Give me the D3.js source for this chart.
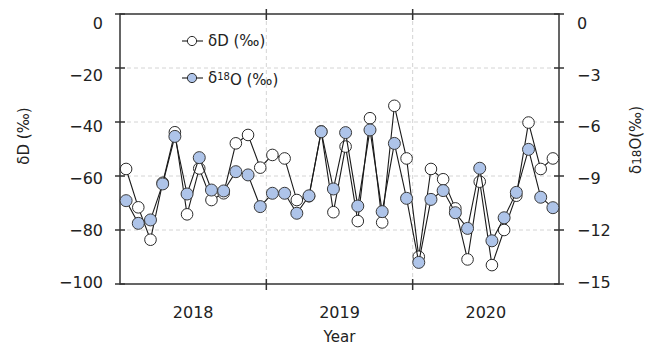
<!DOCTYPE html>
<html>
<head>
<meta charset="utf-8">
<script src="https://cdn.jsdelivr.net/npm/d3@7"></script>
<style>
  html, body { margin: 0; padding: 0; background: #fff; }
  svg text { font-family: "DejaVu Sans", Verdana, sans-serif; fill: #222; }
</style>
</head>
<body>
<svg id="chart" width="646" height="347"></svg>
<script>
// Monthly isotope values, Jan 2018 – Dec 2020
const years = ["2018", "2019", "2020"];
const months = 12;

const deltaD = [
  -57.4, -71.6, -83.6, -62.5, -43.8, -74.2, -57.2, -68.9, -66.4, -47.9, -44.8, -56.9,
  -52.2, -53.5, -68.9, -67.5, -43.5, -73.4, -49.1, -76.7, -38.6, -77.2, -34.0, -53.5,
  -89.9, -57.4, -61.2, -72.0, -90.9, -62.1, -93.0, -80.0, -67.3, -40.2, -57.4, -53.5
];

const delta18O = [
  -10.37, -11.63, -11.44, -9.44, -6.80, -10.00, -7.98, -9.78, -9.83, -8.76, -8.94, -10.70,
  -9.96, -9.96, -11.07, -10.10, -6.54, -9.72, -6.59, -10.67, -6.44, -10.98, -7.19, -10.24,
  -13.80, -10.30, -9.81, -11.04, -11.91, -8.57, -12.60, -11.32, -9.91, -7.52, -10.18, -10.76
];

const leftTicks = [0, -20, -40, -60, -80, -100];
const rightTicks = [0, -3, -6, -9, -12, -15];

const svg = d3.select("#chart");
const L = 120, R = 559, T = 14, B = 284;

const nMonths = years.length * months;
const x = d3.scaleLinear().domain([0, nMonths]).range([L, R]);
const yD = d3.scaleLinear().domain([-100, 0]).range([B, T]);
const yO = d3.scaleLinear().domain([-15, 0]).range([B, T]);
// tick labels sit on a slightly tighter vertical spread than the ticks
const yLabD = d3.scaleLinear().domain([-100, 0]).range([282, 23]);
const yLabO = d3.scaleLinear().domain([-15, 0]).range([282, 23]);

const fmt = d => (d < 0 ? "\u2212" : "") + Math.abs(d);

// grid
const grid = svg.append("g").attr("stroke", "#d4d4d4").attr("stroke-dasharray", "4,3").attr("stroke-width", 1);
leftTicks.filter(d => d !== 0 && d !== -100).forEach(d => {
  grid.append("line").attr("x1", L).attr("x2", R).attr("y1", yD(d)).attr("y2", yD(d));
});
d3.range(1, years.length).forEach(i => {
  grid.append("line").attr("x1", x(i * months)).attr("x2", x(i * months)).attr("y1", T).attr("y2", B);
});

// frame
const frame = svg.append("g").attr("stroke", "#333").attr("stroke-width", 1.5).attr("fill", "none");
frame.append("rect").attr("x", L).attr("y", T).attr("width", R - L).attr("height", B - T);

// left ticks + labels
leftTicks.forEach(d => {
  frame.append("line").attr("x1", L - 5).attr("x2", L + 5).attr("y1", yD(d)).attr("y2", yD(d));
  svg.append("text").attr("x", 103).attr("y", yLabD(d)).attr("dy", "0.36em")
    .attr("text-anchor", "end").attr("font-size", 16).text(fmt(d));
});
// right ticks + labels
rightTicks.forEach(d => {
  frame.append("line").attr("x1", R - 5).attr("x2", R + 5).attr("y1", yO(d)).attr("y2", yO(d));
  svg.append("text").attr("x", 577).attr("y", yLabO(d)).attr("dy", "0.36em")
    .attr("text-anchor", "start").attr("font-size", 16).text(fmt(d));
});
// year boundary ticks on top and bottom
d3.range(1, years.length).forEach(i => {
  const xx = x(i * months);
  frame.append("line").attr("x1", xx).attr("x2", xx).attr("y1", T - 5).attr("y2", T + 6);
  frame.append("line").attr("x1", xx).attr("x2", xx).attr("y1", B - 5).attr("y2", B + 6);
});
// year labels
years.forEach((yr, i) => {
  svg.append("text").attr("x", x(i * months + months / 2)).attr("y", 318)
    .attr("text-anchor", "middle").attr("font-size", 16).text(yr);
});
svg.append("text").attr("x", x(nMonths / 2)).attr("y", 342)
  .attr("text-anchor", "middle").attr("font-size", 15).text("Year");

// axis titles
svg.append("text").attr("transform", "translate(29,136) rotate(-90)")
  .attr("text-anchor", "middle").attr("font-size", 15).text("δD (‰)");
const rt = svg.append("text").attr("transform", "translate(641,140) rotate(-90)")
  .attr("text-anchor", "middle").attr("font-size", 15);
rt.append("tspan").text("δ");
rt.append("tspan").attr("font-size", 12).text("18");
rt.append("tspan").text("O(‰)");

// series
const xi = i => x(i + 0.5);
const lineD = d3.line().x((d, i) => xi(i)).y(d => yD(d));
const lineO = d3.line().x((d, i) => xi(i)).y(d => yO(d));
const fillO = "#aec4e9";

svg.append("path").datum(deltaD).attr("d", lineD)
  .attr("fill", "none").attr("stroke", "#1a1a1a").attr("stroke-width", 1.1);
svg.append("g").selectAll("circle").data(deltaD).join("circle")
  .attr("cx", (d, i) => xi(i)).attr("cy", d => yD(d)).attr("r", 5.8)
  .attr("fill", "#fff").attr("stroke", "#2a2a2a").attr("stroke-width", 1);

svg.append("path").datum(delta18O).attr("d", lineO)
  .attr("fill", "none").attr("stroke", "#1a1a1a").attr("stroke-width", 1.1);
svg.append("g").selectAll("circle").data(delta18O).join("circle")
  .attr("cx", (d, i) => xi(i)).attr("cy", d => yO(d)).attr("r", 6)
  .attr("fill", fillO).attr("stroke", "#3a3a3a").attr("stroke-width", 1);

// legend
const legend = svg.append("g");
const legRows = [
  { y: 41, fill: "#fff" },
  { y: 78, fill: fillO }
];
legRows.forEach(r => {
  legend.append("line").attr("x1", 182).attr("x2", 203).attr("y1", r.y).attr("y2", r.y)
    .attr("stroke", "#1a1a1a").attr("stroke-width", 1.1);
  legend.append("circle").attr("cx", 192).attr("cy", r.y).attr("r", 4.6)
    .attr("fill", r.fill).attr("stroke", "#2a2a2a").attr("stroke-width", 1);
});
legend.append("text").attr("x", 208).attr("y", 41).attr("dy", "0.36em")
  .attr("font-size", 15).text("δD (‰)");
const l2 = legend.append("text").attr("x", 208).attr("y", 78).attr("dy", "0.36em").attr("font-size", 15);
l2.append("tspan").text("δ");
l2.append("tspan").attr("font-size", 10).attr("dy", "-0.35em").text("18");
l2.append("tspan").attr("dy", "0.35em").text("O (‰)");
</script>
</body>
</html>
